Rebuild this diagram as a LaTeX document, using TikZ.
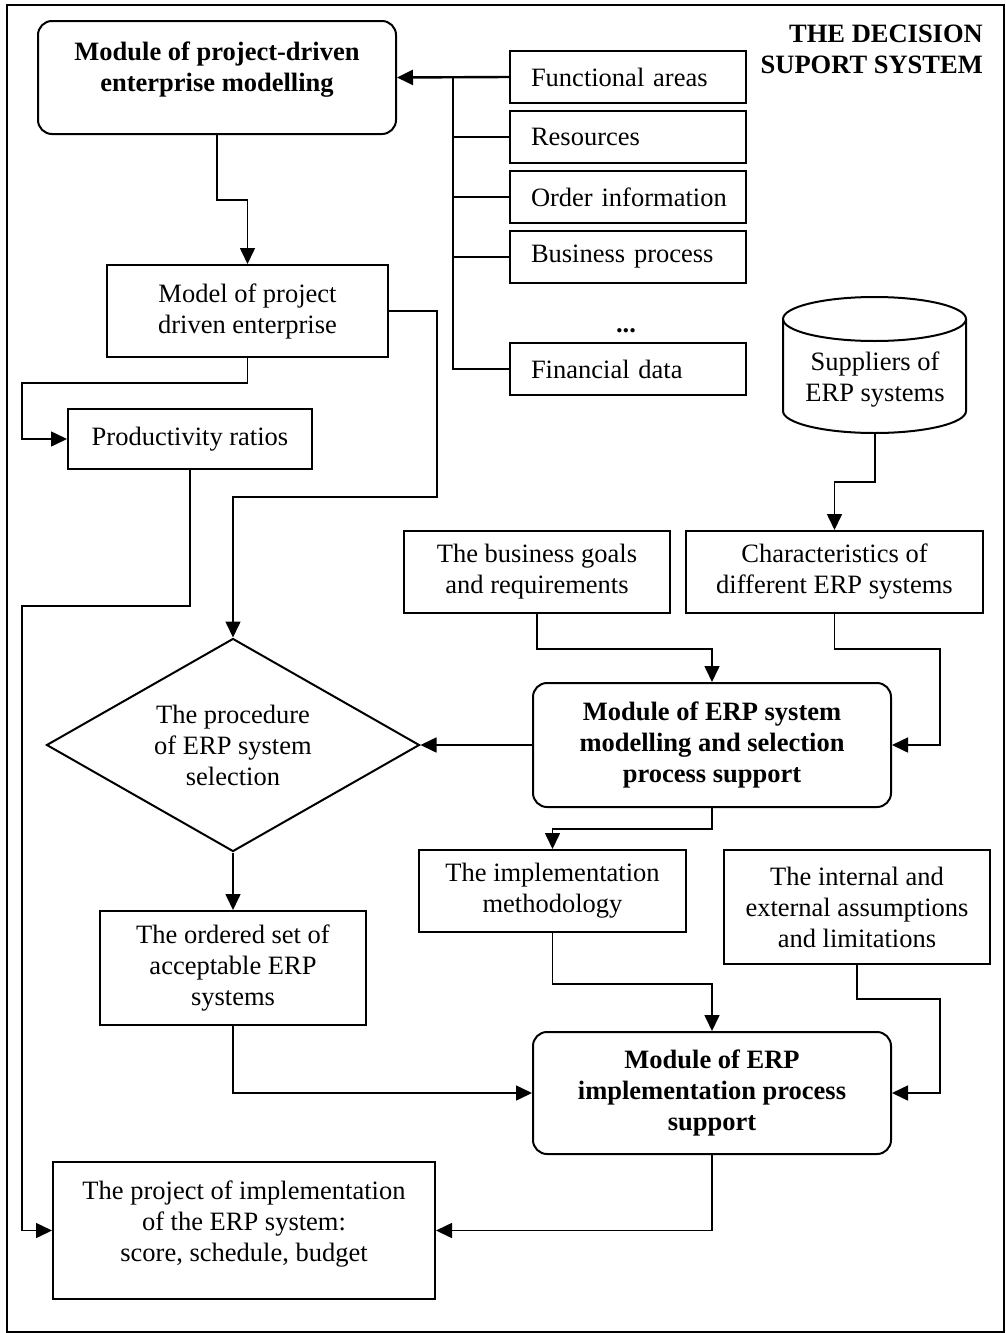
\documentclass[tikz,border=0pt]{standalone}
\usepackage{fontspec}
\setmainfont{Liberation Serif}
\usetikzlibrary{arrows.meta,shapes.geometric}
\begin{document}
\begin{tikzpicture}[x=1pt,y=-1pt,
  every node/.style={font=\fontsize{26.5}{31}\selectfont},
  bx/.style={draw,line width=2pt,inner sep=0pt,align=center},
  rbx/.style={bx,rounded corners=14pt},
  inbox/.style={bx,minimum width=236pt,minimum height=52pt,text width=194pt,align=left},
  txt/.style={inner sep=0pt,align=center},
  conn/.style={line width=1.6pt,-{Triangle[length=16pt,width=15pt]}},
  plain/.style={line width=1.6pt}]
\useasboundingbox (0,0) rectangle (1006,1333);
\draw[line width=2.4pt] (7,5) rectangle (1004,1332);

% title
\node[txt,anchor=east,align=right,font=\fontsize{26.5}{31}\selectfont\bfseries] (title) at (983,49) {THE DECISION\\SUPORT SYSTEM};

% top module
\node[rbx,minimum width=358pt,minimum height=113pt] (topm) at (217,77.5) {};
\node[txt,font=\fontsize{26.5}{31}\selectfont\bfseries] (topmt) at (217,70) {Module of project-driven\\enterprise modelling};

% input boxes
\node[inbox] (func) at (628,77) {\mbox{Functional areas}};
\node[inbox] (res) at (628,137) {\mbox{Resources}};
\node[inbox] (ord) at (628,197) {\mbox{Order information}};
\node[inbox] (bus) at (628,257) {\mbox{Business process}};
\node[txt,font=\fontsize{26.5}{31}\selectfont\bfseries] (dots) at (626,331) {...};
\node[inbox] (fin) at (628,369) {\mbox{Financial data}};

% model
\node[bx,minimum width=281pt,minimum height=92pt] (model) at (247.5,311) {Model of project\\driven enterprise};
\node[bx,minimum width=244pt,minimum height=60pt] (prod) at (190,439) {Productivity ratios};

% cylinder
\draw[line width=2pt] (783,319) -- (783,411) arc[start angle=180,end angle=360,x radius=91.5pt,y radius=22pt] -- (966,319);
\draw[line width=2pt] (874.5,319) ellipse[x radius=91.5pt,y radius=22pt];
\node[txt] (sup) at (875,380) {Suppliers of\\ERP systems};
\coordinate (supb) at (875,433);

% second row
\node[bx,minimum width=266pt,minimum height=82pt] (goals) at (537,572) {The business goals\\and requirements};
\node[bx,minimum width=297pt,minimum height=82pt] (chars) at (834.5,572) {Characteristics of\\different ERP systems};

% diamond
\node[draw,diamond,line width=2pt,aspect=1.75,inner sep=0pt,minimum width=373pt,minimum height=213pt,align=center] (dia) at (233,745) {The procedure\\of ERP system\\selection};

\node[rbx,minimum width=358pt,minimum height=124pt,font=\fontsize{26.5}{31}\selectfont\bfseries] (mod2) at (712,745) {Module of ERP system\\modelling and selection\\process support};

\node[bx,minimum width=267pt,minimum height=82pt] (impl) at (552.5,891) {The implementation\\methodology};
\node[bx,minimum width=266pt,minimum height=114pt] (intern) at (857,907) {The internal and\\external assumptions\\and limitations};
\node[bx,minimum width=266pt,minimum height=114pt] (ordered) at (233,968) {The ordered set of\\acceptable ERP\\systems};

\node[rbx,minimum width=358pt,minimum height=122pt,font=\fontsize{26.5}{31}\selectfont\bfseries] (mod3) at (712,1093) {Module of ERP\\implementation process\\support};

\node[bx,minimum width=382pt,minimum height=137pt] (proj) at (244,1230.5) {};
\node[txt] (projt) at (244,1224) {The project of implementation\\of the ERP system:\\score, schedule, budget};

% connectors
\coordinate (busj) at (453,77);
\draw[conn,line width=2.4pt] (func.west) -- (topm.east);
\draw[plain] (busj) |- (res.west);
\draw[plain] (busj) |- (ord.west);
\draw[plain] (busj) |- (bus.west);
\draw[plain] (busj) |- (fin.west);

\draw[conn] (topm.south) -- ++(0,65) -| (model.north);
\coordinate (ml) at (22,383);
\draw[conn] (model.south) |- (ml) |- (prod.west);
\coordinate (mr) at (437,497);
\draw[conn] (model.east) -| (mr) -| (dia.north);
\coordinate (pl) at (22,606);
\draw[conn] (prod.south) |- (pl) |- (proj.west);

\draw[conn] (supb) -- ++(0,49) -| (chars.north);
\draw[conn] (goals.south) -- ++(0,35) -| (mod2.north);
\coordinate (cr) at (940,745);
\draw[conn] (chars.south) -- ++(0,35) -| (cr) -- (mod2.east);
\draw[conn] (mod2.west) -- (dia.east);
\draw[conn] (mod2.south) -- ++(0,21) -| (impl.north);
\draw[conn] (dia.south) -- (ordered.north);
\draw[conn] (impl.south) -- ++(0,51) -| (mod3.north);
\coordinate (ir) at (940,1093);
\draw[conn] (intern.south) -- ++(0,34) -| (ir) -- (mod3.east);
\draw[conn] (ordered.south) |- (mod3.west);
\draw[conn] (mod3.south) |- (proj.east);
\end{tikzpicture}
\end{document}
